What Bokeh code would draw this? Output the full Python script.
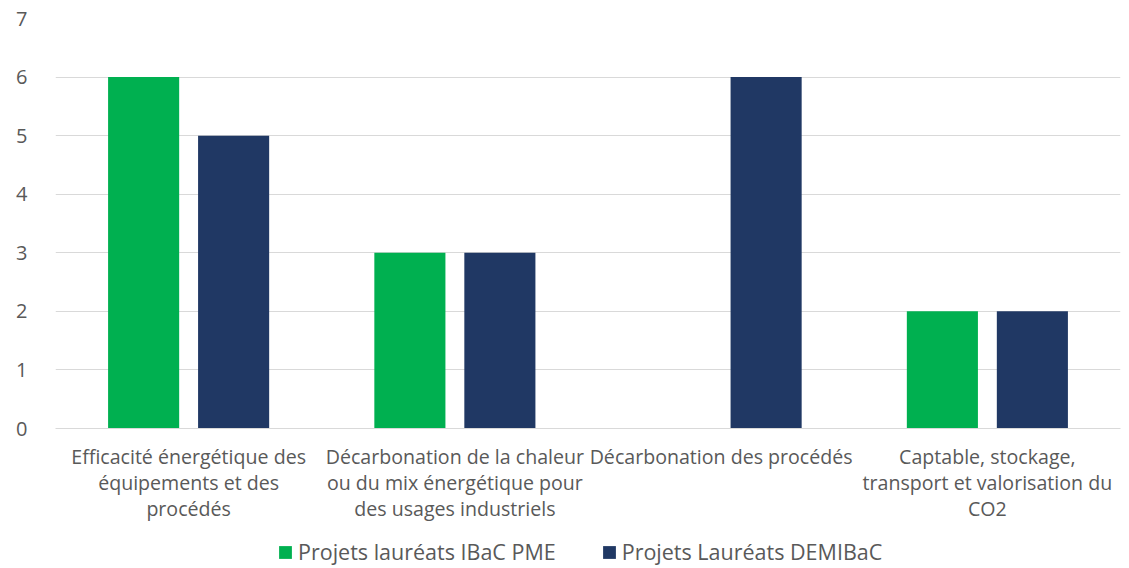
from bokeh.plotting import figure
from bokeh.models import ColumnDataSource, Legend, LegendItem, FactorRange
from bokeh.layouts import column
from bokeh.transform import dodge
from bokeh.embed import file_html
from bokeh.resources import INLINE

categories = [
    "Efficacité énergétique des\néquipements et des\nprocédés",
    "Décarbonation de la chaleur\nou du mix énergétique pour\ndes usages industriels",
    "Décarbonation des procédés",
    "Captable, stockage,\ntransport et valorisation du\nCO2",
]
ibac_pme = [6, 3, 0, 2]
demibac = [5, 3, 6, 2]
series_names = ["Projets lauréats IBaC PME", "Projets Lauréats DEMIBaC"]
y_ticks = [0, 1, 2, 3, 4, 5, 6, 7]

FONT = "Open Sans"
GREEN = "#00b050"
NAVY = "#203864"
GRAY_TXT = "#595959"

src = ColumnDataSource(dict(cat=categories, a=ibac_pme, b=demibac))

p = figure(x_range=FactorRange(*categories), y_range=(0, 7),
           width=1125, height=528, output_backend="svg", toolbar_location=None,
           min_border_left=55, min_border_right=5, min_border_top=18, min_border_bottom=100)


def add_bars(fig):
    ra = fig.vbar(x=dodge("cat", -0.169, range=fig.x_range), top="a", width=0.267,
                  source=src, fill_color=GREEN, line_color=None)
    rb = fig.vbar(x=dodge("cat", 0.169, range=fig.x_range), top="b", width=0.267,
                  source=src, fill_color=NAVY, line_color=None)
    return ra, rb


add_bars(p)

p.outline_line_color = None
p.xgrid.grid_line_color = None
p.ygrid.grid_line_color = "#d9d9d9"
p.x_range.range_padding = 0
p.yaxis.ticker = y_ticks
p.yaxis.axis_line_color = None
p.yaxis.major_tick_line_color = None
p.yaxis.minor_tick_line_color = None
p.yaxis.major_label_standoff = 22
p.yaxis.major_label_text_font = FONT
p.yaxis.major_label_text_font_size = "20px"
p.yaxis.major_label_text_color = GRAY_TXT

p.xaxis.axis_line_color = "#d9d9d9"
p.xaxis.major_tick_line_color = None
p.xaxis.minor_tick_line_color = None
p.xaxis.major_label_standoff = 8
p.xaxis.major_label_text_font = FONT
p.xaxis.major_label_text_font_size = "19.6px"
p.xaxis.major_label_text_color = GRAY_TXT
p.xaxis.major_label_text_line_height = 0.98

# legend strip below the chart (same data, bars outside its view)
lg = figure(x_range=p.x_range, y_range=(100, 101), width=1125, height=38,
            output_backend="svg", toolbar_location=None,
            min_border_left=55, min_border_right=5, min_border_top=0, min_border_bottom=0)
l1, l2 = add_bars(lg)
lg.axis.visible = False
lg.grid.grid_line_color = None
lg.outline_line_color = None

legend = Legend(items=[LegendItem(label=series_names[0], renderers=[l1]),
                       LegendItem(label=series_names[1], renderers=[l2])],
                orientation="horizontal", location=(222, 0),
                label_text_font=FONT, label_text_font_size="21.5px",
                label_text_color=GRAY_TXT, glyph_width=16, glyph_height=16,
                spacing=45, label_standoff=5, border_line_color=None,
                background_fill_alpha=0, margin=0, padding=0)
lg.add_layout(legend, "center")

layout = column(p, lg, spacing=0)
open("out.html", "w").write(file_html(layout, INLINE))
